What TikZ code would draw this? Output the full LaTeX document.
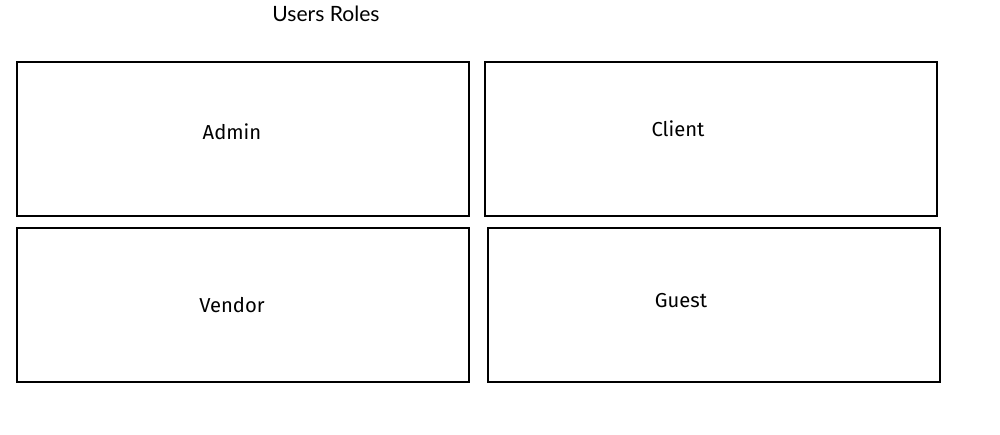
\documentclass[tikz,border=0pt]{standalone}
\usepackage{fontspec}
\setmainfont{Lato}
\newfontfamily\labelfont{Fira Sans}

\begin{document}
\begin{tikzpicture}[
    x=0.02cm, y=-0.02cm,
    rolebox/.style={rectangle, draw=black, line width=1.1pt, minimum width=9.04cm, minimum height=3.08cm, inner sep=0pt},
    rolename/.style={font=\labelfont\fontsize{11.5}{13}\selectfont, inner sep=0pt},
    ]
    \useasboundingbox (0,0) rectangle (1000,434);
    \node [font=\fontsize{12}{14}\selectfont, inner sep=0pt] (title) at (326,14) {Users Roles};

    \node [rolebox] (admin) at (243,139) {};
    \node [rolename] (admin-t) at (232,132) {Admin};

    \node [rolebox] (client) at (711,139) {};
    \node [rolename] (client-t) at (678,129) {Client};

    \node [rolebox] (vendor) at (243,305) {};
    \node [rolename] (vendor-t) at (232,305) {Vendor};

    \node [rolebox] (guest) at (714,305) {};
    \node [rolename] (guest-t) at (681,301) {Guest};
\end{tikzpicture}
\end{document}
